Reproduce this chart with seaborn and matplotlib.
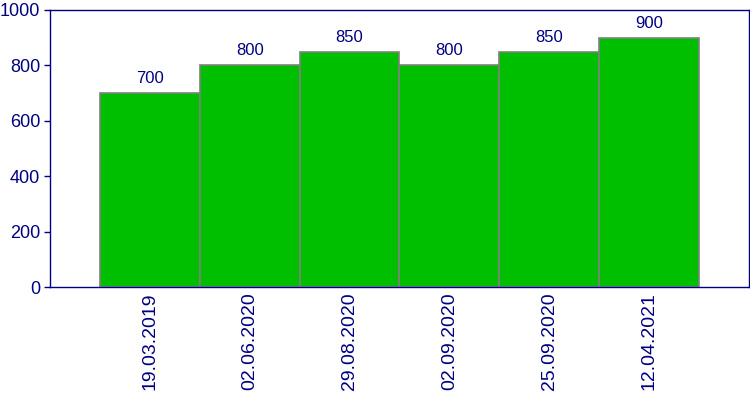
import matplotlib
matplotlib.use("Agg")
import matplotlib.pyplot as plt
import seaborn as sns
import pandas as pd

dates = ["19.03.2019", "02.06.2020", "29.08.2020", "02.09.2020", "25.09.2020", "12.04.2021"]
values = [700, 800, 850, 800, 850, 900]

sns.set_style("white")
plt.rcParams['font.family'] = ['Liberation Sans', 'DejaVu Sans']
navy = "#000080"

df = pd.DataFrame({"date": dates, "value": values})

fig = plt.figure(figsize=(7.5, 4), dpi=100)
ax = fig.add_axes([50 / 750, 113 / 400, 699 / 750, 277 / 400])
sns.barplot(data=df, x="date", y="value", color="#00bf00", saturation=1,
            width=1, edgecolor="#808080", linewidth=1.2, ax=ax)

for i, v in enumerate(values):
    ax.annotate(str(v), (i, v), xytext=(0, 5), textcoords="offset points",
                ha="center", va="bottom", color=navy, fontsize=12)

ax.set_xlim(-1, 6)
ax.set_ylim(0, 1000)
ax.set_yticks([0, 200, 400, 600, 800, 1000])
ax.set_xlabel("")
ax.set_ylabel("")
ax.tick_params(axis="x", length=0, pad=4, labelsize=14, colors=navy, rotation=90)
ax.tick_params(axis="y", length=4, width=1, direction="out", pad=3, labelsize=13, colors=navy, left=True)
for s in ax.spines.values():
    s.set_color(navy)
    s.set_linewidth(1)

fig.savefig("out.png", dpi=100)
